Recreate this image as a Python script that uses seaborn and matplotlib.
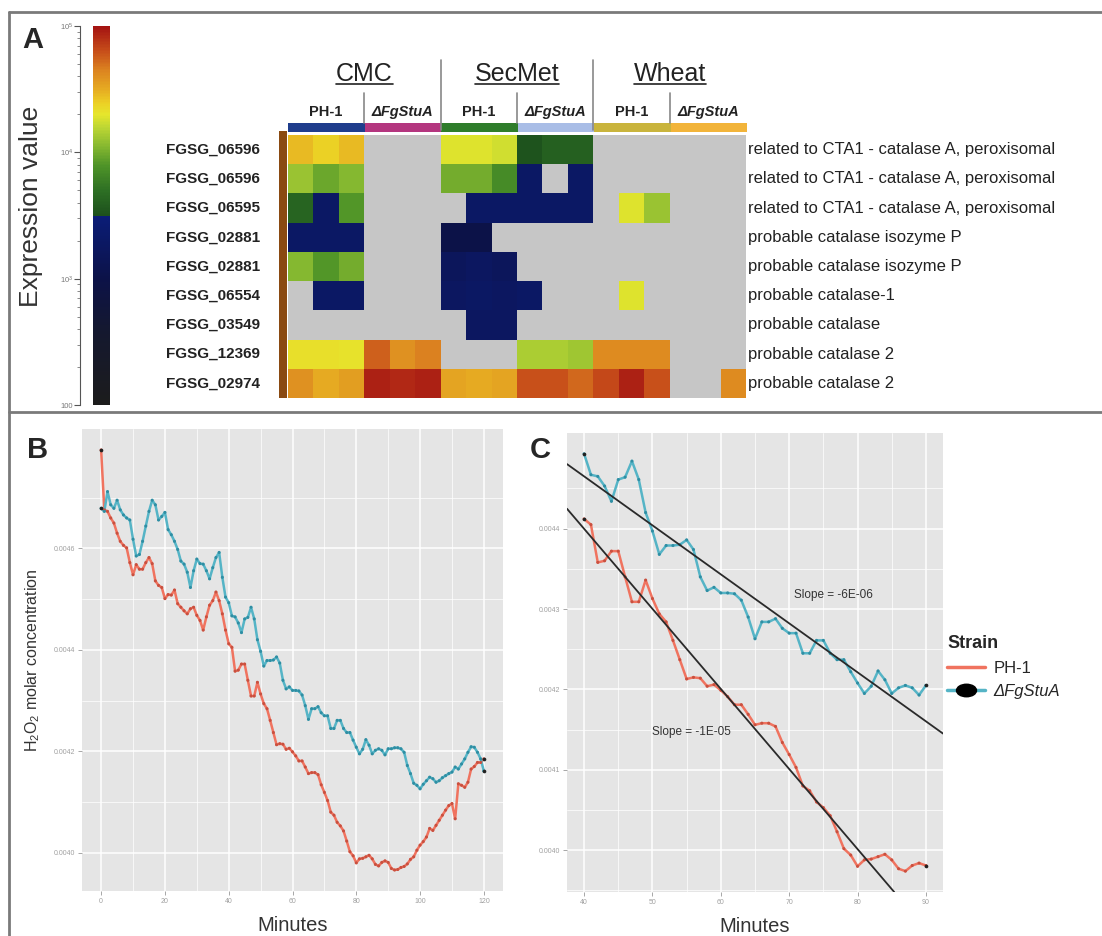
import numpy as np
import pandas as pd
import seaborn as sns
import matplotlib.pyplot as plt
from matplotlib.colors import LinearSegmentedColormap, ListedColormap, Normalize
from matplotlib.cm import ScalarMappable
from matplotlib.lines import Line2D
from matplotlib.markers import MarkerStyle
from matplotlib.transforms import Affine2D
from matplotlib.ticker import FormatStrFormatter, FixedLocator, FixedFormatter

W, H = 1102, 936

# ---- panel A data ----
genes = ['FGSG_06596', 'FGSG_06596', 'FGSG_06595', 'FGSG_02881', 'FGSG_02881',
         'FGSG_06554', 'FGSG_03549', 'FGSG_12369', 'FGSG_02974']
descriptions = ['related to CTA1 - catalase A, peroxisomal',
                'related to CTA1 - catalase A, peroxisomal',
                'related to CTA1 - catalase A, peroxisomal',
                'probable catalase isozyme P',
                'probable catalase isozyme P',
                'probable catalase-1',
                'probable catalase',
                'probable catalase 2',
                'probable catalase 2']
media = ['CMC', 'SecMet', 'Wheat']
strains = ['PH-1', 'ΔFgStuA']
strip_colors = ['#1f3d8c', '#b4367f', '#2f7d2b', '#a9bde6', '#c9b43c', '#f2b43a']

n = np.nan
# log10 expression value, columns = medium x strain x 3 replicates, nan = not detected
log_expr = [
    [4.45, 4.38, 4.45, n, n, n, 4.28, 4.28, 4.24, 3.52, 3.6, 3.6, n, n, n, n, n, n],
    [4.10, 3.97, 4.05, n, n, n, 4.0, 4.0, 3.85, 3.3, n, 3.3, n, n, n, n, n, n],
    [3.62, 3.3, 3.9, n, n, n, n, 3.3, 3.3, 3.3, 3.3, 3.3, n, 4.28, 4.1, n, n, n],
    [3.3, 3.3, 3.3, n, n, n, 3.0, 3.0, n, n, n, n, n, n, n, n, n, n],
    [4.05, 3.9, 4.0, n, n, n, 3.2, 3.25, 3.2, n, n, n, n, n, n, n, n, n],
    [n, 3.3, 3.3, n, n, n, 3.25, 3.28, 3.25, 3.3, n, n, n, 4.28, n, n, n, n],
    [n, n, n, n, n, n, n, 3.25, 3.25, n, n, n, n, n, n, n, n, n],
    [4.33, 4.33, 4.32, 4.75, 4.6, 4.65, n, n, n, 4.15, 4.15, 4.12, 4.62, 4.62, 4.62, n, n, n],
    [4.6, 4.5, 4.55, 4.95, 4.92, 4.95, 4.52, 4.5, 4.52, 4.8, 4.8, 4.72, 4.82, 4.95, 4.8, n, n, 4.62],
]

# ---- panels B / C data: H2O2 molar concentration per minute ----
minutes = list(range(121))
ph1 = [
    0.004794, 0.004676, 0.004673, 0.004660, 0.004650, 0.004630, 0.004614, 0.004606, 0.004601, 0.004572,
    0.004548, 0.004568, 0.004559, 0.004559, 0.004572, 0.004582, 0.004570, 0.004536, 0.004527, 0.004523,
    0.004501, 0.004509, 0.004508, 0.004518, 0.004491, 0.004484, 0.004477, 0.004471, 0.004481, 0.004484,
    0.004468, 0.004458, 0.004439, 0.004465, 0.004488, 0.004497, 0.004514, 0.004497, 0.004471, 0.004439,
    0.004412, 0.004405, 0.004358, 0.004360, 0.004372, 0.004372, 0.004340, 0.004309, 0.004309, 0.004336,
    0.004313, 0.004294, 0.004284, 0.004261, 0.004237, 0.004213, 0.004215, 0.004214, 0.004204, 0.004206,
    0.004199, 0.004191, 0.004181, 0.004181, 0.004169, 0.004156, 0.004158, 0.004158, 0.004154, 0.004134,
    0.004119, 0.004103, 0.004080, 0.004074, 0.004060, 0.004053, 0.004043, 0.004023, 0.004002, 0.003994,
    0.003980, 0.003988, 0.003989, 0.003992, 0.003995, 0.003988, 0.003977, 0.003974, 0.003981, 0.003984,
    0.003981, 0.003969, 0.003966, 0.003967, 0.003971, 0.003973, 0.003978, 0.003987, 0.003992, 0.004005,
    0.004015, 0.004022, 0.004031, 0.004048, 0.004044, 0.004054, 0.004064, 0.004074, 0.004084, 0.004093,
    0.004097, 0.004067, 0.004136, 0.004133, 0.004129, 0.004139, 0.004165, 0.004170, 0.004178, 0.004178,
    0.004185]
stua = [
    0.004679, 0.004673, 0.004712, 0.004686, 0.004679, 0.004695, 0.004676, 0.004666, 0.004660, 0.004656,
    0.004618, 0.004585, 0.004588, 0.004614, 0.004644, 0.004673, 0.004695, 0.004686, 0.004656, 0.004663,
    0.004671, 0.004637, 0.004627, 0.004614, 0.004598, 0.004575, 0.004569, 0.004553, 0.004523, 0.004556,
    0.004579, 0.004570, 0.004569, 0.004556, 0.004540, 0.004562, 0.004582, 0.004592, 0.004543, 0.004504,
    0.004493, 0.004467, 0.004465, 0.004453, 0.004434, 0.004461, 0.004464, 0.004484, 0.004461, 0.004420,
    0.004397, 0.004368, 0.004379, 0.004379, 0.004380, 0.004386, 0.004374, 0.004340, 0.004323, 0.004327,
    0.004320, 0.004320, 0.004319, 0.004311, 0.004290, 0.004263, 0.004284, 0.004284, 0.004288, 0.004276,
    0.004270, 0.004270, 0.004245, 0.004245, 0.004261, 0.004261, 0.004245, 0.004237, 0.004237, 0.004222,
    0.004208, 0.004195, 0.004204, 0.004223, 0.004212, 0.004195, 0.004202, 0.004205, 0.004202, 0.004193,
    0.004205, 0.004205, 0.004207, 0.004207, 0.004205, 0.004198, 0.004172, 0.004156, 0.004137, 0.004133,
    0.004126, 0.004135, 0.004142, 0.004149, 0.004146, 0.004139, 0.004142, 0.004148, 0.004152, 0.004156,
    0.004159, 0.004169, 0.004165, 0.004175, 0.004185, 0.004198, 0.004209, 0.004208, 0.004198, 0.004185,
    0.004161]
zoom_window = (40, 90)
fit_windows = {'PH-1': (40, 80), 'ΔFgStuA': (40, 90)}
line_colors = {'PH-1': '#F0735F', 'ΔFgStuA': '#55B4C6'}
dot_colors = {'PH-1': '#c9503f', 'ΔFgStuA': '#2f8ea3'}
b_yticks = [0.0040, 0.0042, 0.0044, 0.0046]
c_yticks = [0.0040, 0.0041, 0.0042, 0.0043, 0.0044]

sns.set_theme(style='darkgrid', rc={'axes.facecolor': '#E5E5E5', 'grid.color': 'white'})
plt.rcParams['font.family'] = ['Liberation Sans', 'DejaVu Sans']
plt.rcParams['mathtext.fontset'] = 'custom'
plt.rcParams['mathtext.rm'] = 'Liberation Sans'
plt.rcParams['mathtext.it'] = 'Liberation Sans:italic'


def px(x0, y0, x1, y1):
    return [x0 / W, 1 - y1 / H, (x1 - x0) / W, (y1 - y0) / H]


def ftext(x, y, s, **kw):
    return fig.text(x / W, 1 - y / H, s, **kw)


fig = plt.figure(figsize=(W / 100, H / 100), dpi=100)
fig.patch.set_facecolor('white')

# frame
for xs, ys in [((9, W), (12, 12)), ((9, 9), (12, H)), ((9, W), (412, 412))]:
    fig.add_artist(Line2D([x / W for x in xs], [1 - y / H for y in ys],
                          transform=fig.transFigure, color='#7a7a7a', lw=2))

# ---------------- panel A ----------------
cmap = LinearSegmentedColormap.from_list('expr', [
    (0.0, '#1c1c1c'), (0.2, '#141830'), (0.333, '#0c1248'), (0.4999, '#0b1d78'),
    (0.5, '#1c501c'), (0.567, '#2e7024'), (0.633, '#4f9428'), (0.683, '#86b830'),
    (0.733, '#bcd634'), (0.767, '#e6e62c'), (0.8, '#ecce24'), (0.833, '#e6ac22'),
    (0.883, '#dc8420'), (0.933, '#c8501a'), (1.0, '#a41212')])
norm = Normalize(2, 5)

axH = fig.add_axes(px(288, 135, 746, 398))
sns.heatmap(np.array(log_expr), ax=axH, cmap=cmap, vmin=2, vmax=5, cbar=False,
            xticklabels=False, yticklabels=genes)
axH.set_facecolor('#c6c6c6')
axH.grid(False)
axH.tick_params(left=False, bottom=False, pad=14)
for lab in axH.get_yticklabels():
    lab.set_fontweight('bold')
    lab.set_fontsize(11)
    lab.set_rotation(0)
    lab.set_color('#222222')
for i, d in enumerate(descriptions):
    axH.text(18.08, i + 0.5, d, ha='left', va='center', fontsize=12, color='#222222')

axS = fig.add_axes(px(279, 131, 287, 398))
sns.heatmap(np.zeros((len(genes), 1)), ax=axS, cmap=ListedColormap(['#8a4a12']),
            cbar=False, xticklabels=False, yticklabels=False)
axS.grid(False)

axT = fig.add_axes(px(288, 123, 747, 132))
sns.heatmap(np.arange(len(strip_colors)).reshape(1, -1), ax=axT,
            cmap=ListedColormap(strip_colors), cbar=False, xticklabels=False, yticklabels=False)
axT.grid(False)

col_w = (746 - 288) / 18
headers = []
for m, med in enumerate(media):
    cx = 288 + col_w * (6 * m + 3)
    headers.append(ftext(cx, 74, med, ha='center', va='center', fontsize=18, color='#222222'))
    for s, st in enumerate(strains):
        sx = 288 + col_w * (6 * m + 3 * s + 1.5)
        ftext(sx, 112, st, ha='center', va='center', fontsize=10.5, fontweight='bold',
              style='italic' if s == 1 else 'normal', color='#222222')
    sep = 288 + col_w * (6 * m + 3)
    fig.add_artist(Line2D([sep / W] * 2, [1 - 93 / H, 1 - 123 / H], transform=fig.transFigure,
                          color='#888888', lw=1.2))
    if m < 2:
        sep = 288 + col_w * (6 * m + 6)
        fig.add_artist(Line2D([sep / W] * 2, [1 - 60 / H, 1 - 130 / H], transform=fig.transFigure,
                              color='#888888', lw=1.2))

# colour bar
cax = fig.add_axes(px(93, 26, 110, 405))
cb = fig.colorbar(ScalarMappable(norm=norm, cmap=cmap), cax=cax)
cb.outline.set_visible(False)
cax.set_yticks([])
axL = fig.add_axes(px(80, 26, 81, 405))
axL.set_facecolor('none')
axL.grid(False)
for sp in ['top', 'right', 'bottom']:
    axL.spines[sp].set_visible(False)
axL.spines['left'].set_color('#555555')
axL.spines['left'].set_linewidth(0.8)
axL.set_ylim(2, 5)
axL.set_xticks([])
axL.yaxis.set_major_locator(FixedLocator([2, 3, 4, 5]))
axL.yaxis.set_major_formatter(FixedFormatter(['100', '$10^3$', '$10^4$', '$10^5$']))
axL.yaxis.set_minor_locator(FixedLocator(
    [e + np.log10(k) for e in (2, 3, 4) for k in range(2, 10)]))
axL.tick_params(axis='y', which='major', left=True, length=4, width=0.8, color='#555555',
                labelsize=5.5, labelcolor='#777777', pad=1)
axL.tick_params(axis='y', which='minor', left=True, length=2, width=0.6, color='#777777')
ftext(31, 206, 'Expression value', rotation=90, ha='center', va='center', fontsize=19, color='#333333')

ftext(33, 40, 'A', ha='center', va='center', fontsize=21, fontweight='bold')
ftext(38, 450, 'B', ha='center', va='center', fontsize=21, fontweight='bold')
ftext(540, 450, 'C', ha='center', va='center', fontsize=21, fontweight='bold')

# ---------------- panels B and C ----------------
df = pd.DataFrame({'Minutes': minutes * 2,
                   'conc': ph1 + stua,
                   'Strain': ['PH-1'] * len(ph1) + ['ΔFgStuA'] * len(stua)})
dfc = df[df['Minutes'].between(*zoom_window)]


def style_gg(ax, xmaj, yticks):
    xs = np.arange(0, 130, xmaj)
    ax.xaxis.set_major_locator(FixedLocator(xs))
    ax.xaxis.set_minor_locator(FixedLocator(xs + xmaj / 2))
    step = yticks[1] - yticks[0]
    ax.yaxis.set_major_locator(FixedLocator(yticks))
    ax.yaxis.set_minor_locator(FixedLocator(np.array(yticks + [yticks[-1] + step]) - step / 2))
    ax.yaxis.set_major_formatter(FormatStrFormatter('%.4f'))
    ax.grid(which='major', color='white', lw=1.1)
    ax.grid(which='minor', color='white', lw=0.5)
    for sp in ax.spines.values():
        sp.set_visible(False)
    ax.tick_params(which='major', bottom=True, left=True, length=3, width=0.6, color='#999999',
                   labelsize=5, labelcolor='#a0a0a0', pad=2)
    ax.tick_params(which='minor', length=0)


def draw_lines(ax, data):
    sns.lineplot(data=data, x='Minutes', y='conc', hue='Strain', palette=line_colors, ax=ax,
                 legend=False, lw=1.8)
    sns.scatterplot(data=data, x='Minutes', y='conc', hue='Strain', palette=dot_colors, ax=ax,
                    legend=False, s=5, linewidth=0, zorder=3)
    for st, g in data.groupby('Strain'):
        ends = g.iloc[[0, -1]]
        ax.scatter(ends['Minutes'], ends['conc'], s=7, color='#222222', zorder=5, lw=0)
    xl, yl = ax.get_xlim(), ax.get_ylim()
    return xl, yl


axB = fig.add_axes(px(82, 429, 503, 891))
xl, yl = draw_lines(axB, df)
style_gg(axB, 20, b_yticks)
axB.set_xlim(xl)
axB.set_ylim(yl)
axB.set_xlabel('Minutes', fontsize=14.5, color='#333333', labelpad=8)
axB.set_ylabel('H$_2$O$_2$ molar concentration', fontsize=11.5, color='#333333', labelpad=8)

axC = fig.add_axes(px(567, 433, 943, 892))
xl, yl = draw_lines(axC, dfc)
style_gg(axC, 10, c_yticks)
axC.set_xlabel('Minutes', fontsize=14.5, color='#333333', labelpad=8)
axC.set_ylabel('')
slope_pos = {'PH-1': (55.7, 0.004147), 'ΔFgStuA': (76.5, 0.004317)}
for st, g in dfc.groupby('Strain'):
    g = g[g['Minutes'].between(*fit_windows[st])]
    slope, icpt = np.polyfit(g['Minutes'], g['conc'], 1)
    axC.axline((40, icpt + slope * 40), slope=slope, color='#2a2a2a', lw=1.3, zorder=4)
    axC.text(*slope_pos[st], f'Slope = {slope:.0E}', ha='center', va='center', fontsize=8.5,
             color='#333333')
axC.set_xlim(xl)
axC.set_ylim(yl)

handles = [Line2D([], [], color=line_colors['PH-1'], lw=2.5),
           Line2D([], [], color=line_colors['ΔFgStuA'], lw=2.5,
                  marker=MarkerStyle('o', transform=Affine2D().scale(1.6, 1)),
                  markersize=9, markerfacecolor='black', markeredgecolor='black')]
leg = axC.legend(handles, strains, title='Strain', loc='center left', bbox_to_anchor=(0.98, 0.49),
                 frameon=False, fontsize=12, title_fontproperties={'weight': 'bold', 'size': 13},
                 handlelength=2.3, handletextpad=0.5, alignment='left', borderaxespad=0.3)
leg.get_texts()[1].set_style('italic')

# underline the medium headers
fig.canvas.draw()
r = fig.canvas.get_renderer()
for t in headers:
    bb = t.get_window_extent(r)
    fig.add_artist(Line2D([bb.x0 / W, bb.x1 / W], [(bb.y0 + 2) / H] * 2, transform=fig.transFigure,
                          color='#222222', lw=1.2))

fig.savefig('out.png', dpi=100)
